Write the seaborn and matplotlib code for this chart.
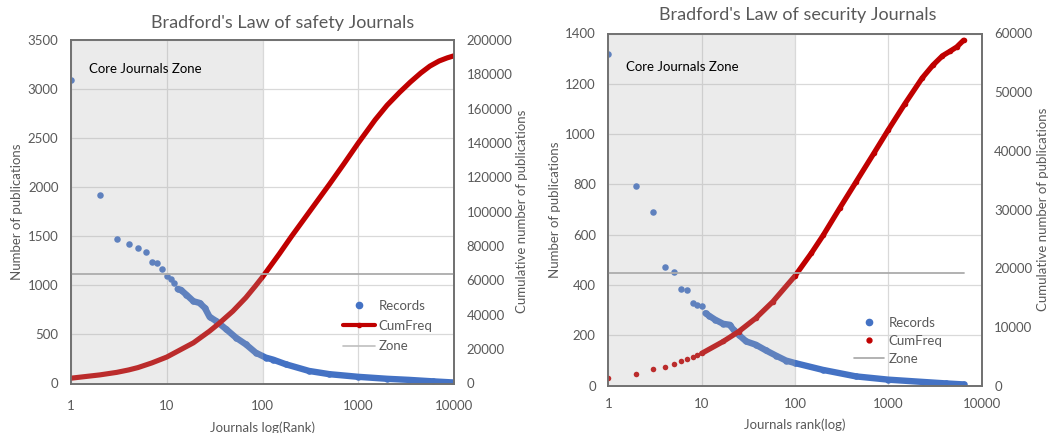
import numpy as np
import pandas as pd
import matplotlib
matplotlib.use("Agg")
import matplotlib.pyplot as plt
import seaborn as sns
from matplotlib.lines import Line2D


# ==============================
# DATA
# ==============================

# safety journals: records per journal by rank
safety_rec_rank = [1, 2, 3, 4, 5, 6, 7, 8, 9, 10, 11, 12, 13, 14,
                   16, 19, 22, 25, 28, 33, 42, 53, 67, 85, 108, 129, 175,
                   306, 500, 1000, 2000, 3370, 6000, 10000]
safety_rec_val = [3090, 1920, 1472, 1417, 1376, 1342, 1236, 1228, 1165, 1100, 1064, 1024, 963, 955,
                  905, 838, 821, 770, 679, 635, 551, 466, 399, 314, 264, 243, 196,
                  128, 95, 68, 48, 37, 22, 10]

# safety journals: cumulative publications
safety_cum_rank = [1, 2, 3, 4, 5, 7, 10, 19, 28, 35, 49, 67, 85, 100,
                   150, 200, 300, 500, 700, 1000, 1500, 2000, 2700, 3500,
                   4500, 5600, 7000, 8500, 10000]
safety_cum_val = [3090, 5010, 6480, 7900, 9270, 12000, 15400, 23700, 30500, 34900, 42100, 50000, 57000, 62000,
                  75500, 85500, 99000, 116000, 127500, 140000, 153500, 162000, 169500, 175500,
                  180800, 184800, 187800, 189600, 190800]

safety_zone_rank = [1, 10000]
safety_zone_val = [63600, 63600]

# security journals: records per journal by rank
security_rec_rank = [1, 2, 3, 4, 5, 6, 7, 8, 9, 10, 11, 12,
                     14, 17, 20, 22, 25, 30, 38, 49, 63, 80, 100, 198,
                     450, 1000, 2340, 4170, 6400]
security_rec_val = [1320, 794, 690, 471, 453, 386, 380, 328, 322, 316, 288, 278,
                    262, 246, 242, 222, 202, 176, 163, 140, 119, 100, 90, 63,
                    37, 24, 15, 9, 5]

# security journals: cumulative publications
security_cum_rank = [1, 2, 3, 4, 5, 6, 7, 8, 9, 10,
                     17, 25, 38, 58, 100, 150, 200, 300, 450, 700, 1000,
                     1500, 2300, 3000, 3800, 4600, 5400, 6400]
security_cum_val = [1300, 2050, 2790, 3240, 3750, 4160, 4500, 4840, 5180, 5500,
                    7530, 9230, 11500, 14330, 18700, 22600, 25600, 30200, 34700, 39600, 43600,
                    48000, 52400, 54600, 56200, 57000, 57700, 58850]

security_zone_rank = [1, 6400]
security_zone_val = [19200, 19200]


# ==============================
# STYLE
# ==============================

sns.set_theme(style="white")
plt.rcParams["font.family"] = ["Lato", "DejaVu Sans"]

BLUE = "#4472C4"
RED = "#C00000"
ZONE = "#ABABAB"
GRID = "#D9D9D9"
TEXT = "#595959"
SPINE = "#707070"


fig = plt.figure(figsize=(10.5, 4.33), dpi=100)


def draw_panel(ax, rec_rank, rec_val, cum_rank, cum_val, zone_rank, zone_val,
               ymax, ystep, y2max, y2step, cum_dots, band_from, core_y):
    ax2 = ax.twinx()

    rec = pd.DataFrame({"rank": rec_rank, "value": rec_val})
    cum = pd.DataFrame({"rank": cum_rank, "value": cum_val})
    zone = pd.DataFrame({"rank": zone_rank, "value": zone_val})

    # Records: dots, dense tail shown as a thick band
    sns.lineplot(data=rec[rec["rank"] >= band_from], x="rank", y="value", ax=ax,
                 color=BLUE, lw=4.6, estimator=None, sort=True,
                 solid_capstyle="round", solid_joinstyle="round")
    sns.scatterplot(data=rec, x="rank", y="value", ax=ax, color=BLUE,
                    s=22, linewidth=0)

    # cumulative series on the secondary axis
    if cum_dots:
        sns.lineplot(data=cum[cum["rank"] >= 10], x="rank", y="value", ax=ax2,
                     color=RED, lw=3.8, estimator=None, zorder=1.5,
                     solid_capstyle="round", solid_joinstyle="round")
        sns.scatterplot(data=cum, x="rank", y="value", ax=ax2, color=RED,
                        s=16, linewidth=0, zorder=1.5)
    else:
        sns.lineplot(data=cum, x="rank", y="value", ax=ax2, color=RED,
                     lw=3.7, estimator=None, zorder=1.5,
                     solid_capstyle="round", solid_joinstyle="round")

    sns.lineplot(data=zone, x="rank", y="value", ax=ax2, color=ZONE,
                 lw=1.3, estimator=None, zorder=1.6)

    # core zone shading (ranks 1-100)
    ax2.axvspan(1, 100, color="#B0B0B0", alpha=0.25, lw=0, zorder=2)
    ax2.text(1.55, core_y, "Core Journals Zone", fontsize=9.5,
             color="black", va="center", ha="left", zorder=3,
             transform=ax.transData)

    for a in (ax, ax2):
        a.set_xscale("log")
        a.set_xlim(1, 10000)
        a.tick_params(length=0, labelsize=9.5, colors=TEXT)
        for sp in a.spines.values():
            sp.set_color(SPINE)
            sp.set_linewidth(1.2)

    ax.set_xticks([1, 10, 100, 1000, 10000])
    ax.set_xticklabels(["1", "10", "100", "1000", "10000"])
    ax.minorticks_off()
    ax2.minorticks_off()

    ax.set_ylim(0, ymax)
    ax.set_yticks(np.arange(0, ymax + 1, ystep))
    ax2.set_ylim(0, y2max)
    ax2.set_yticks(np.arange(0, y2max + 1, y2step))
    ax2.set_yticklabels([str(v) for v in np.arange(0, y2max + 1, y2step)])

    ax.grid(True, color=GRID, lw=0.9)
    ax2.grid(False)
    ax.set_axisbelow(True)

    ax.tick_params(axis="y", pad=9)
    ax2.tick_params(axis="y", pad=9)
    return ax2


# ==============================
# LEFT: SAFETY
# ==============================

axL = fig.add_axes([71 / 1050, 1 - 383.5 / 433, 383 / 1050, 343.5 / 433])
axL2 = draw_panel(axL, safety_rec_rank, safety_rec_val, safety_cum_rank, safety_cum_val,
                  safety_zone_rank, safety_zone_val,
                  3500, 500, 200000, 20000, False, 13, 3200)
axL.tick_params(axis="x", pad=12)

axL.set_xlabel("Journals log(Rank)", fontsize=9.5, color=TEXT)
axL.xaxis.set_label_coords(0.5, -0.13)
axL.xaxis.label.set_va("center")
axL.set_ylabel("Number of publications", fontsize=9.5, color=TEXT)
axL.yaxis.set_label_coords(-0.14, 0.5)
axL.yaxis.label.set_va("center")
axL2.set_ylabel("Cumulative number of publications", fontsize=9.5, color=TEXT,
                rotation=90)
axL2.yaxis.set_label_coords(1.1775, 0.5)
axL2.yaxis.label.set_va("center")

fig.text(283 / 1050, 1 - 23 / 433, "Bradford's Law of safety Journals",
         fontsize=13, color=TEXT, ha="center", va="center")

handlesL = [
    Line2D([], [], ls="", marker="o", ms=4.5, color=BLUE, mec=BLUE),
    Line2D([], [], lw=3, marker="o", ms=3, color=RED),
    Line2D([], [], lw=1.2, color="#BFBFBF"),
]
axL2.legend(handlesL, ["Records", "CumFreq", "Zone"], frameon=False,
            loc="center left", bbox_to_anchor=(343 / 1050, 1 - 326 / 433),
            bbox_transform=fig.transFigure, borderpad=0, borderaxespad=0,
            handlelength=2.4, handletextpad=0.3, labelspacing=0.64,
            fontsize=9.5, labelcolor=TEXT)


# ==============================
# RIGHT: SECURITY
# ==============================

axR = fig.add_axes([608.3 / 1050, 1 - 385.7 / 433, 373.4 / 1050, 352.2 / 433])
axR2 = draw_panel(axR, security_rec_rank, security_rec_val, security_cum_rank, security_cum_val,
                  security_zone_rank, security_zone_val,
                  1400, 200, 60000, 10000, True, 11, 1268)
axR.tick_params(axis="x", pad=9)

axR.set_xlabel("Journals rank(log)", fontsize=9.5, color=TEXT)
axR.xaxis.set_label_coords(0.5, -0.112)
axR.xaxis.label.set_va("center")
axR.set_ylabel("Number of publications", fontsize=9.5, color=TEXT)
axR.yaxis.set_label_coords(-0.1427, 0.5)
axR.yaxis.label.set_va("center")
axR2.set_ylabel("Cumulative number of publications", fontsize=9.5, color=TEXT,
                rotation=90)
axR2.yaxis.set_label_coords(1.165, 0.5)
axR2.yaxis.label.set_va("center")

fig.text(798 / 1050, 1 - 15 / 433, "Bradford's Law of security Journals",
         fontsize=13, color=TEXT, ha="center", va="center")

handlesR = [
    Line2D([], [], ls="", marker="o", ms=4.5, color=BLUE, mec=BLUE),
    Line2D([], [], ls="", marker="o", ms=3.5, color=RED, mec=RED),
    Line2D([], [], lw=1.2, color="#A6A6A6"),
]
axR2.legend(handlesR, ["Records", "CumFreq", "Zone"], frameon=False,
            loc="center left", bbox_to_anchor=(854 / 1050, 1 - 341 / 433),
            bbox_transform=fig.transFigure, borderpad=0, borderaxespad=0,
            handlelength=2.3, handletextpad=0.3, labelspacing=0.45,
            fontsize=9.5, labelcolor=TEXT)


fig.savefig("out.png", dpi=100)
